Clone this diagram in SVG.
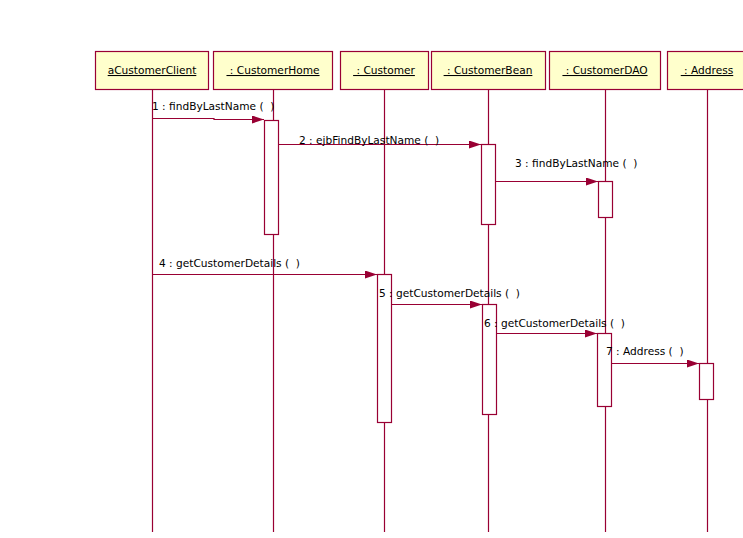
<svg xmlns="http://www.w3.org/2000/svg" width="743" height="538" viewBox="0 0 743 538">
<style>
.box{fill:#FFFFCC;stroke:#990033;stroke-width:1.2}
.act{fill:#FFFFFF;stroke:#990033;stroke-width:1.2}
.life{stroke:#990033;stroke-width:1.2;fill:none}
.msg{stroke:#990033;stroke-width:1.2;fill:none;marker-end:url(#ah)}
text{white-space:pre}
.name{font-family:"DejaVu Sans","Liberation Sans",sans-serif;font-size:10.6px;fill:#000;text-anchor:middle;text-decoration:underline}
.lbl{font-family:"DejaVu Sans","Liberation Sans",sans-serif;font-size:10.6px;fill:#000}
</style>
<defs>
<marker id="ah" markerWidth="12" markerHeight="8" refX="12" refY="4" orient="auto" markerUnits="userSpaceOnUse">
<path d="M0,0 L12,4 L0,8 Z" fill="#990033"/>
</marker>
</defs>
<rect width="743" height="538" fill="#FFFFFF"/>
<g id="lifelines">
<line class="life" x1="152.5" y1="89" x2="152.5" y2="532"/>
<line class="life" x1="273.5" y1="89" x2="273.5" y2="532"/>
<line class="life" x1="384.5" y1="89" x2="384.5" y2="532"/>
<line class="life" x1="488.5" y1="89" x2="488.5" y2="532"/>
<line class="life" x1="605.5" y1="89" x2="605.5" y2="532"/>
<line class="life" x1="707.5" y1="89" x2="707.5" y2="532"/>
</g>
<g id="aCustomerClient">
<rect class="box" x="95.5" y="51.5" width="113" height="38"/>
<text class="name" x="152" y="74" xml:space="preserve">aCustomerClient</text>
</g>
<g id="CustomerHome">
<rect class="box" x="213.5" y="51.5" width="119" height="38"/>
<text class="name" x="273" y="74" xml:space="preserve"> : CustomerHome</text>
<rect class="act" x="264.5" y="120.5" width="14" height="114"/>
</g>
<g id="Customer">
<rect class="box" x="340.5" y="51.5" width="88" height="38"/>
<text class="name" x="384" y="74" xml:space="preserve"> : Customer</text>
<rect class="act" x="377.5" y="274.5" width="14" height="148"/>
</g>
<g id="CustomerBean">
<rect class="box" x="431.5" y="51.5" width="114" height="38"/>
<text class="name" x="488" y="74" xml:space="preserve"> : CustomerBean</text>
<rect class="act" x="481.5" y="144.5" width="14" height="80"/>
<rect class="act" x="482.5" y="304.5" width="14" height="110"/>
</g>
<g id="CustomerDAO">
<rect class="box" x="549.5" y="51.5" width="111" height="38"/>
<text class="name" x="605" y="74" xml:space="preserve"> : CustomerDAO</text>
<rect class="act" x="598.5" y="181.5" width="14" height="36"/>
<rect class="act" x="597.5" y="333.5" width="14" height="73"/>
</g>
<g id="Address">
<rect class="box" x="667.5" y="51.5" width="80" height="38"/>
<text class="name" x="707" y="74" xml:space="preserve"> : Address</text>
<rect class="act" x="699.5" y="363.5" width="14" height="36"/>
</g>
<g id="connectors">
<path class="msg" d="M152,118.5 H214 V119.5 H264"/>
<path class="msg" d="M279,144.5 H481"/>
<path class="msg" d="M496,181.5 H598"/>
<path class="msg" d="M152,274.5 H377"/>
<path class="msg" d="M392,304.5 H482"/>
<path class="msg" d="M497,333.5 H597"/>
<path class="msg" d="M612,363.5 H699"/>
</g>
<g id="labels">
<text class="lbl" x="152" y="110" xml:space="preserve">1 : findByLastName (  )</text>
<text class="lbl" x="299" y="144" xml:space="preserve">2 : ejbFindByLastName (  )</text>
<text class="lbl" x="515" y="167" xml:space="preserve">3 : findByLastName (  )</text>
<text class="lbl" x="159" y="267" xml:space="preserve">4 : getCustomerDetails (  )</text>
<text class="lbl" x="379" y="297" xml:space="preserve">5 : getCustomerDetails (  )</text>
<text class="lbl" x="484" y="327" xml:space="preserve">6 : getCustomerDetails (  )</text>
<text class="lbl" x="606" y="355" xml:space="preserve">7 : Address (  )</text>
</g>
</svg>
